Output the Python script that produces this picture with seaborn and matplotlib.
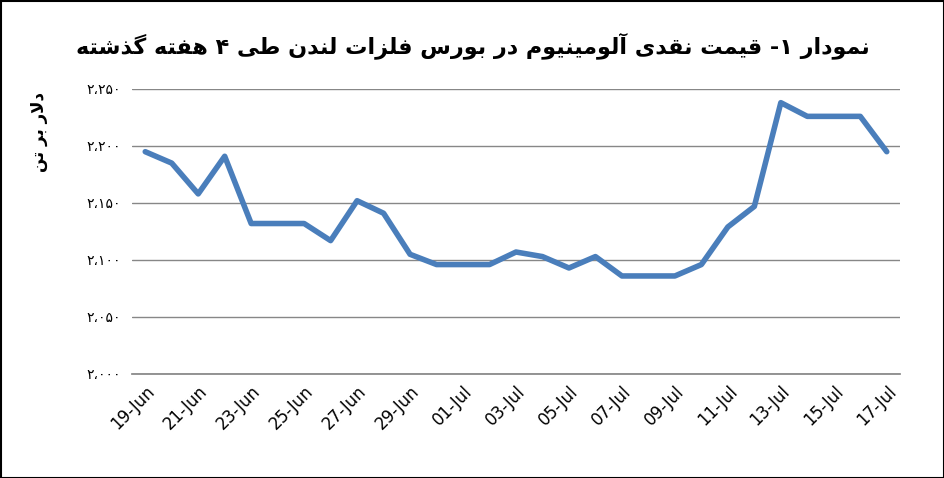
import matplotlib
matplotlib.use("Agg")
import matplotlib.pyplot as plt
import seaborn as sns
import pandas as pd
import numpy as np

dates = ["19-Jun","20-Jun","21-Jun","22-Jun","23-Jun","24-Jun","25-Jun","26-Jun","27-Jun","28-Jun",
         "29-Jun","30-Jun","01-Jul","02-Jul","03-Jul","04-Jul","05-Jul","06-Jul","07-Jul","08-Jul",
         "09-Jul","10-Jul","11-Jul","12-Jul","13-Jul","14-Jul","15-Jul","16-Jul","17-Jul"]
prices = [2195,2185,2158,2191,2132,2132,2132,2117,2152,2141,2105,2096,2096,2096,2107,2103,2093,2103,
          2086,2086,2086,2096,2129,2147,2238,2226,2226,2226,2195]
yticks = [2000,2050,2100,2150,2200,2250]
ytick_labels = ["۲،۰۰۰","۲،۰۵۰","۲،۱۰۰","۲،۱۵۰","۲،۲۰۰","۲،۲۵۰"]
title = "نمودار ۱- قیمت نقدی آلومینیوم در بورس فلزات لندن طی ۴ هفته گذشته"
ylabel = "دلار بر تن"

FORMS = {
 'ا':(0xFE8D,0xFE8E,None,None),'آ':(0xFE81,0xFE82,None,None),
 'ب':(0xFE8F,0xFE90,0xFE91,0xFE92),'ت':(0xFE95,0xFE96,0xFE97,0xFE98),
 'د':(0xFEA9,0xFEAA,None,None),'ذ':(0xFEAB,0xFEAC,None,None),
 'ر':(0xFEAD,0xFEAE,None,None),'ز':(0xFEAF,0xFEB0,None,None),
 'س':(0xFEB1,0xFEB2,0xFEB3,0xFEB4),'ش':(0xFEB5,0xFEB6,0xFEB7,0xFEB8),
 'ط':(0xFEC1,0xFEC2,0xFEC3,0xFEC4),'ف':(0xFED1,0xFED2,0xFED3,0xFED4),
 'ق':(0xFED5,0xFED6,0xFED7,0xFED8),'ل':(0xFEDD,0xFEDE,0xFEDF,0xFEE0),
 'م':(0xFEE1,0xFEE2,0xFEE3,0xFEE4),'ن':(0xFEE5,0xFEE6,0xFEE7,0xFEE8),
 'ه':(0xFEE9,0xFEEA,0xFEEB,0xFEEC),'و':(0xFEED,0xFEEE,None,None),
 'ی':(0xFBFC,0xFBFD,0xFBFE,0xFBFF),'گ':(0xFB92,0xFB93,0xFB94,0xFB95),
}
def joins_next(c):
    return c in FORMS and FORMS[c][2] is not None
def shape(s):
    out = []
    i = 0
    chars = list(s)
    while i < len(chars):
        c = chars[i]
        if c not in FORMS:
            out.append(c); i += 1; continue
        prev = chars[i-1] if i > 0 else ''
        pj = joins_next(prev)
        nxt = chars[i+1] if i+1 < len(chars) else ''
        if c == 'ل' and nxt == 'ا':
            out.append(chr(0xFEFC if pj else 0xFEFB)); i += 2; continue
        nj = nxt in FORMS and joins_next(c)
        iso, fin, ini, med = FORMS[c]
        if pj and nj: f = med
        elif pj: f = fin
        elif nj: f = ini
        else: f = iso
        out.append(chr(f)); i += 1
    return ''.join(out)[::-1]

df = pd.DataFrame({"x": np.arange(len(dates)), "price": prices})

sns.set_theme(style="white")
plt.rcParams['font.family'] = ['DejaVu Sans']
fig = plt.figure(figsize=(9.45, 4.78), dpi=100)
ax = fig.add_axes([132/945, 1-374/478, (900-132)/945, (374-89)/478])
sns.lineplot(data=df, x="x", y="price", ax=ax, color="#4a7ebb", linewidth=4)
ax.set_xlim(-0.5, len(dates)-0.5)
ax.set_ylim(2000, 2250)
ax.set_yticks(yticks)
ax.set_yticklabels(ytick_labels, fontsize=10, color="black")
ax.yaxis.grid(True, color="#878787", linewidth=1)
ax.set_xticks(np.arange(0, len(dates), 2))
ax.set_xticklabels(dates[::2], rotation=45, ha="right", rotation_mode="anchor", fontsize=12, color="black")
ax.set_xticks(np.arange(-0.5, len(dates), 2), minor=True)
ax.tick_params(axis="x", which="major", length=0, pad=6)
ax.tick_params(axis="x", which="minor", length=5, color="#878787", direction="out")
ax.tick_params(axis="y", length=0, pad=8)
for s in ["top", "right", "left"]:
    ax.spines[s].set_visible(False)
ax.spines["bottom"].set_color("#878787")
ax.set_xlabel("")
ax.set_ylabel(shape(ylabel), rotation=90, fontsize=12, fontweight="bold", color="black")
ax.yaxis.set_label_coords(-0.11, 0.85)
fig.text(0.5, 0.905, shape(title), ha="center", va="center", fontsize=16, fontweight="bold", color="black")
fig.patches.append(plt.Rectangle((0.001, 0.001), 0.998, 0.997, transform=fig.transFigure,
                                 fill=False, edgecolor="black", linewidth=1.5))
fig.savefig("out.png", dpi=100)
